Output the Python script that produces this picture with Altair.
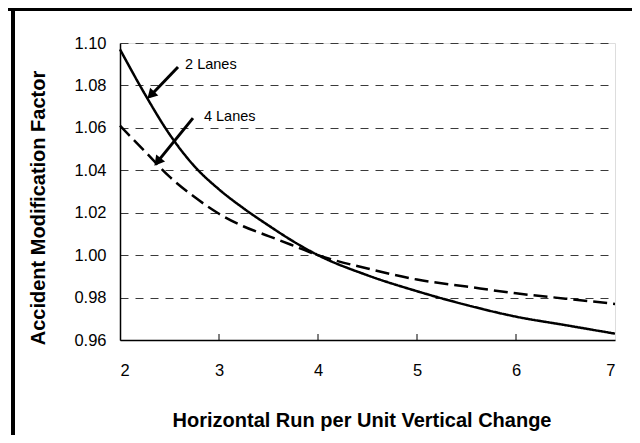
import altair as alt
import pandas as pd

# Data
x_run = [2, 2.25, 2.5, 2.75, 3, 3.25, 3.5, 3.75, 4, 4.5, 5, 5.5, 6, 6.5, 7]
amf_2_lanes = [1.097, 1.076, 1.057, 1.042, 1.031, 1.022, 1.014, 1.0065, 1.000,
               0.9905, 0.983, 0.9765, 0.971, 0.967, 0.963]
amf_4_lanes = [1.061, 1.049, 1.037, 1.0275, 1.0195, 1.0135, 1.009, 1.0045, 1.000,
               0.9937, 0.9885, 0.9852, 0.982, 0.9795, 0.977]
series_names = ["2 Lanes", "4 Lanes"]
x_ticks = [2, 3, 4, 5, 6, 7]
inner_ticks = [3, 4, 5, 6]
y_ticks = [0.96, 0.98, 1.00, 1.02, 1.04, 1.06, 1.08, 1.10]

# Annotation texts and arrows (data coordinates)
label_text = ["2 Lanes", "4 Lanes"]
label_x = [2.657, 2.848]
label_y = [1.0895, 1.0651]
arrow_x0 = [2.586, 2.737]
arrow_y0 = [1.0887, 1.0646]
arrow_x1 = [2.300, 2.372]
arrow_y1 = [1.0748, 1.0436]
head_x = [2.311, 2.379]
head_y = [1.0754, 1.0440]
head_angle = [224, 219]

rows = []
for name, vals in zip(series_names, [amf_2_lanes, amf_4_lanes]):
    for xv, yv in zip(x_run, vals):
        rows.append({"x": xv, "y": yv, "series": name})
df = pd.DataFrame(rows)

ann = pd.DataFrame({"text": label_text, "x": label_x, "y": label_y,
                    "x0": arrow_x0, "y0": arrow_y0, "x1": arrow_x1, "y1": arrow_y1,
                    "hx": head_x, "hy": head_y, "angle": head_angle})
ticks_df = pd.DataFrame({"x": inner_ticks})

FONT = "Liberation Sans"
W, H = 495, 297

xscale = alt.Scale(domain=[2, 7], nice=False, zero=False)
yscale = alt.Scale(domain=[0.96, 1.10], nice=False, zero=False)

xaxis = alt.Axis(values=x_ticks, format="d", title="Horizontal Run per Unit Vertical Change",
                 grid=False, ticks=False, tickSize=0, domainColor="black", domainWidth=1.5,
                 labelFont=FONT, labelFontSize=16.5, labelColor="black",
                 labelBaseline="middle", labelPadding=30,
                 titleFont=FONT, titleFontSize=20, titleFontWeight="bold", titleColor="black",
                 titleBaseline="middle", titleY=80, titleX=W / 2 - 6)
yaxis = alt.Axis(values=y_ticks, format=".2f", title="Accident Modification Factor",
                 grid=True, gridColor="#3a3a3a", gridDash=[8, 7], gridWidth=1,
                 ticks=False, tickSize=0, domainColor="black", domainWidth=1.5,
                 labelFont=FONT, labelFontSize=16.5, labelColor="black", labelPadding=14,
                 titleFont=FONT, titleFontSize=20, titleFontWeight="bold", titleColor="black",
                 titleAngle=270, titleBaseline="middle", titleX=-82, titleY=H / 2 + 16)

lines = alt.Chart(df).mark_line(strokeWidth=2.5, interpolate="monotone", color="black").encode(
    x=alt.X("x:Q", scale=xscale, axis=xaxis),
    y=alt.Y("y:Q", scale=yscale, axis=yaxis),
    strokeDash=alt.StrokeDash("series:N", scale=alt.Scale(domain=series_names,
                                                          range=[[1, 0], [14, 6]]), legend=None),
    detail="series:N",
)

inner = alt.Chart(ticks_df).mark_rule(color="black", strokeWidth=1).encode(
    x=alt.X("x:Q", scale=xscale), y=alt.value(H), y2=alt.value(H - 6))

shafts = alt.Chart(ann).mark_rule(color="black", strokeWidth=3).encode(
    x=alt.X("x0:Q", scale=xscale), y=alt.Y("y0:Q", scale=yscale),
    x2="x1:Q", y2="y1:Q")

heads = alt.Chart(ann).mark_point(shape="triangle-up", filled=True, color="black",
                                  opacity=1, size=130).encode(
    x=alt.X("hx:Q", scale=xscale), y=alt.Y("hy:Q", scale=yscale),
    angle=alt.Angle("angle:Q", scale=None))

texts = alt.Chart(ann).mark_text(align="left", baseline="middle", font=FONT,
                                 fontSize=14.5, color="black").encode(
    x=alt.X("x:Q", scale=xscale), y=alt.Y("y:Q", scale=yscale), text="text:N")

frame_left = alt.Chart(ann).mark_rule(color="black", strokeWidth=4).encode(
    x=alt.value(-107), y=alt.value(-35), y2=alt.value(400))
frame_top = alt.Chart(ann).mark_rule(color="black", strokeWidth=3).encode(
    x=alt.value(-112), x2=alt.value(520), y=alt.value(-33.5))

chart = alt.layer(lines, inner, shafts, heads, texts, frame_left, frame_top).properties(
    width=W, height=H,
    padding={"left": 112, "top": 35, "right": 17, "bottom": 95},
    autosize=alt.AutoSizeParams(type="none"),
).configure_view(stroke="#808080", strokeWidth=1).configure(background="white")

chart.save("out.html", embed_options={"renderer": "svg", "actions": False})
